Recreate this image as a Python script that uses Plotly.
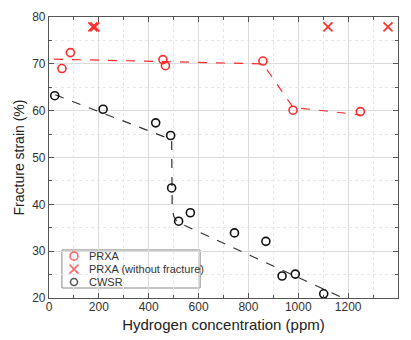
import plotly.graph_objects as go

# PRXA (fractured)
prxa_x = [52, 86, 457, 467, 858, 979, 1249]
prxa_y = [69.0, 72.4, 70.9, 69.6, 70.6, 60.1, 59.8]
# PRXA without fracture
prxa_nf_x = [176, 184, 1119, 1360]
prxa_nf_y = [77.9, 77.9, 77.9, 77.9]
# CWSR
cwsr_x = [23, 217, 428, 488, 492, 520, 567, 744, 870, 935, 988, 1102]
cwsr_y = [63.2, 60.3, 57.4, 54.7, 43.5, 36.4, 38.2, 33.9, 32.1, 24.7, 25.1, 20.9]
# trend lines
prxa_fit_x = [20, 858, 979, 1249]
prxa_fit_y = [71.0, 70.0, 60.7, 59.1]
cwsr_fit_x = [25, 480, 492, 494, 500, 515, 1200]
cwsr_fit_y = [63.4, 54.2, 53.8, 40.0, 37.5, 36.2, 19.5]

legend_names = ["PRXA", "PRXA (without fracture)", "CWSR"]

RED = "#ff2a2a"
BLACK = "#111111"
fig = go.Figure()
fig.add_trace(go.Scatter(x=prxa_fit_x, y=prxa_fit_y, mode="lines",
                         line=dict(color=RED, width=1.2, dash="dash"), showlegend=False))
fig.add_trace(go.Scatter(x=cwsr_fit_x, y=cwsr_fit_y, mode="lines",
                         line=dict(color="#333333", width=1.2, dash="dash"), showlegend=False))
fig.add_trace(go.Scatter(x=prxa_x, y=prxa_y, mode="markers", name=legend_names[0], showlegend=False,
                         marker=dict(symbol="circle-open", size=8, color=RED, line=dict(width=1.6))))
fig.add_trace(go.Scatter(x=prxa_nf_x, y=prxa_nf_y, mode="markers", name=legend_names[1], showlegend=False,
                         marker=dict(symbol="x-thin-open", size=9, color=RED, line=dict(width=1.6, color=RED))))
fig.add_trace(go.Scatter(x=cwsr_x, y=cwsr_y, mode="markers", name=legend_names[2], showlegend=False,
                         marker=dict(symbol="circle-open", size=8, color=BLACK, line=dict(width=1.6))))

# compact legend (drawn on an overlay axis in plot-fraction units)
leg_rows_y = [0.149, 0.103, 0.057]
leg_sym_x = 0.0716
leg_txt_x = 0.108
fig.add_trace(go.Scatter(x=[leg_sym_x] * 3, y=leg_rows_y, xaxis="x2", yaxis="y2", mode="markers",
                         showlegend=False, hoverinfo="skip",
                         marker=dict(symbol=["circle-open", "x-thin-open", "circle-open"],
                                     size=[8, 9, 7], color=[RED, RED, BLACK],
                                     line=dict(width=1.6, color=[RED, RED, BLACK]))))
fig.add_shape(type="rect", xref="x2", yref="y2", x0=0.037, x1=0.433, y0=0.0356, y1=0.171,
              line=dict(color="#8a8a8a", width=1), fillcolor="white", layer="below")
for name, yy in zip(legend_names, leg_rows_y):
    fig.add_annotation(x=leg_txt_x, y=yy, xref="x2", yref="y2", text=name, showarrow=False,
                       xanchor="left", yanchor="middle",
                       font=dict(size=11, color="#333333", family="Liberation Sans, Arial"))

axis_common = dict(
    showline=True, linecolor="#555555", linewidth=1.2, mirror="ticks",
    ticks="inside", ticklen=5, tickcolor="#555555",
    showgrid=True, gridcolor="#dcdcdc", gridwidth=1,
    zeroline=False, automargin=False,
    tickfont=dict(size=12, color="#333333", family="Liberation Sans, Arial"),
)
fig.update_layout(
    xaxis=dict(range=[0, 1400], tickvals=[0, 200, 400, 600, 800, 1000, 1200, 1400],
               ticklabelstandoff=-3,
               title=dict(text="Hydrogen concentration (ppm)", font=dict(size=15, color="#222222"), standoff=6),
               minor=dict(dtick=100, ticks="inside", ticklen=3, tickcolor="#555555",
                          showgrid=True, gridcolor="#e6e6e6", griddash="dot"),
               **axis_common),
    yaxis=dict(range=[20, 80], tickvals=[20, 30, 40, 50, 60, 70, 80],
               title=dict(text="Fracture strain (%)", font=dict(size=14, color="#222222"), standoff=4),
               minor=dict(dtick=5, ticks="inside", ticklen=3, tickcolor="#555555",
                          showgrid=True, gridcolor="#e6e6e6", griddash="dot"),
               **axis_common),
    xaxis2=dict(overlaying="x", range=[0, 1], visible=False, fixedrange=True),
    yaxis2=dict(overlaying="y", range=[0, 1], visible=False, fixedrange=True),
    width=411, height=340,
    margin=dict(l=49, r=13, t=17, b=42),
    paper_bgcolor="white", plot_bgcolor="white",
    font=dict(family="Liberation Sans, Arial", color="#333333"),
    showlegend=False,
)
fig.write_html("out.html", config={"displayModeBar": False},
               post_script="document.body.style.margin='0';")
